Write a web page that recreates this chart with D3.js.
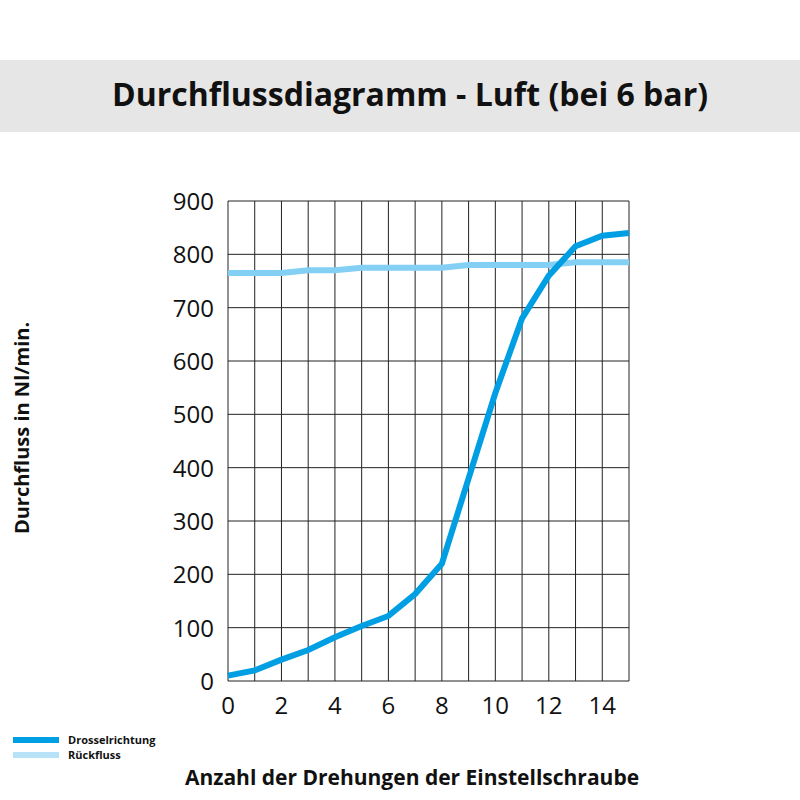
<!DOCTYPE html>
<html><head><meta charset="utf-8">
<script src="https://cdn.jsdelivr.net/npm/d3@7"></script>
<style>body{margin:0;background:#fff;font-family:"Open Sans",sans-serif}</style>
</head><body>
<script>
const turns = d3.range(0, 16);
const drossel = [10, 20, 40, 58, 82, 103, 122, 163, 220, 380, 540, 680, 760, 815, 835, 840];
const rueck = [765, 765, 765, 770, 770, 775, 775, 775, 775, 780, 780, 780, 780, 785, 785, 785];
const xTicks = [0, 2, 4, 6, 8, 10, 12, 14];
const yTicks = d3.range(0, 1000, 100);

const svg = d3.select("body").append("svg").attr("width", 800).attr("height", 800);

// title band
svg.append("rect").attr("x", 0).attr("y", 60).attr("width", 800).attr("height", 72).attr("fill", "#e6e6e6");
svg.append("text").attr("x", 410).attr("y", 106).attr("text-anchor", "middle")
  .attr("font-size", 32).attr("font-weight", "bold").attr("fill", "#111")
  .text("Durchflussdiagramm - Luft (bei 6 bar)");

const x = d3.scaleLinear().domain([0, 15]).range([228, 629]);
const y = d3.scaleLinear().domain([0, 900]).range([681, 201]);

// grid
svg.append("g").selectAll("line").data(turns).join("line")
  .attr("x1", d => x(d)).attr("x2", d => x(d)).attr("y1", y(0)).attr("y2", y(900))
  .attr("stroke", "#222").attr("stroke-width", 1);
svg.append("g").selectAll("line").data(yTicks).join("line")
  .attr("x1", x(0)).attr("x2", x(15)).attr("y1", d => y(d)).attr("y2", d => y(d))
  .attr("stroke", "#222").attr("stroke-width", 1);

// tick labels
svg.append("g").selectAll("text").data(yTicks).join("text")
  .attr("x", 214).attr("y", d => y(d) + 9).attr("text-anchor", "end")
  .attr("font-size", 24).attr("fill", "#111").text(d => d);
svg.append("g").selectAll("text").data(xTicks).join("text")
  .attr("x", d => x(d)).attr("y", 714).attr("text-anchor", "middle")
  .attr("font-size", 24).attr("fill", "#111").text(d => d);

const line = d3.line().x((d, i) => x(turns[i])).y(d => y(d));
svg.append("path").datum(rueck).attr("d", line).attr("fill", "none")
  .attr("stroke", "#84d0f5").attr("stroke-width", 6);
svg.append("path").datum(drossel).attr("d", line).attr("fill", "none")
  .attr("stroke", "#009fe3").attr("stroke-width", 6);

// axis titles
svg.append("text").attr("transform", "translate(29,428) rotate(-90)").attr("text-anchor", "middle")
  .attr("font-size", 20).attr("font-weight", "bold").attr("fill", "#111").text("Durchfluss in Nl/min.");
svg.append("text").attr("x", 412).attr("y", 785).attr("text-anchor", "middle")
  .attr("font-size", 21).attr("font-weight", "bold").attr("fill", "#111").text("Anzahl der Drehungen der Einstellschraube");

// legend
const legend = [["Drosselrichtung", "#009fe3"], ["Rückfluss", "#b8e2f8"]];
const lg = svg.append("g").selectAll("g").data(legend).join("g")
  .attr("transform", (d, i) => `translate(13,${740 + i * 15})`);
lg.append("rect").attr("width", 46).attr("height", 6).attr("y", -3).attr("fill", d => d[1]);
lg.append("text").attr("x", 55).attr("y", 4).attr("font-size", 11).attr("font-weight", "bold")
  .attr("fill", "#111").text(d => d[0]);
</script>
</body></html>
